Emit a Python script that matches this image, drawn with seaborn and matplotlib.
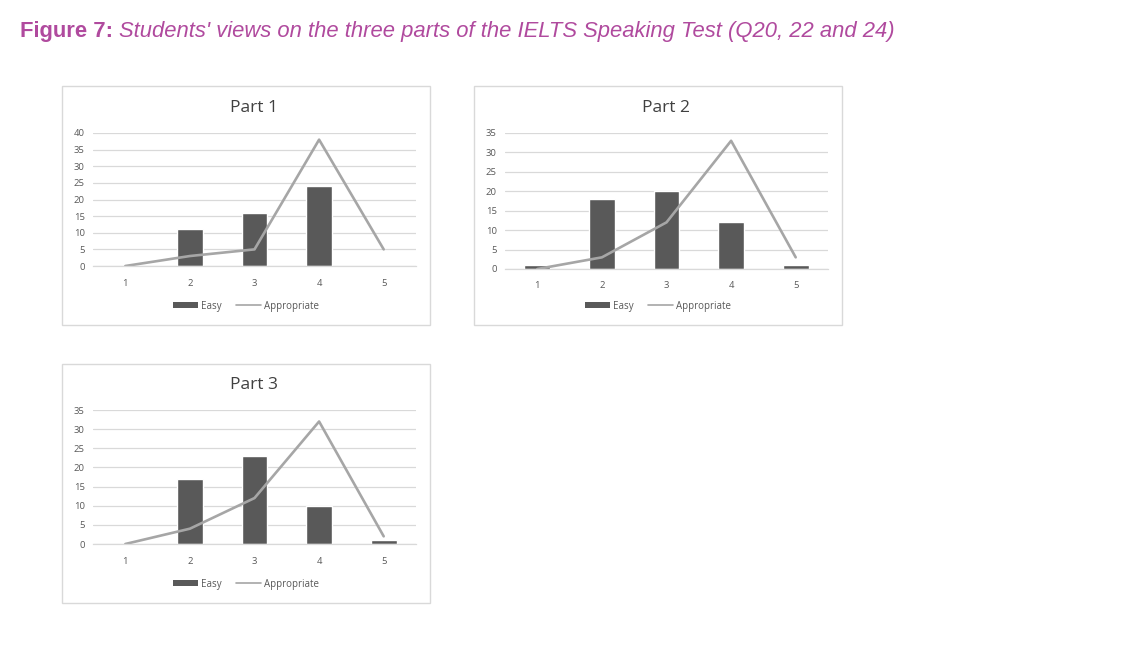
import matplotlib
matplotlib.use("Agg")
import matplotlib.pyplot as plt
import seaborn as sns
import pandas as pd
import numpy as np
from matplotlib.patches import Rectangle, Patch
from matplotlib.lines import Line2D

sns.set_theme(style="white")
plt.rcParams['font.family'] = ['Open Sans', 'DejaVu Sans']

categories = ["1", "2", "3", "4", "5"]
part1_easy = [0, 11, 16, 24, 0]
part1_appr = [0, 3, 5, 38, 5]
part2_easy = [1, 18, 20, 12, 1]
part2_appr = [0, 3, 12, 33, 3]
part3_easy = [0, 17, 23, 10, 1]
part3_appr = [0, 4, 12, 32, 2]
panel_titles = ["Part 1", "Part 2", "Part 3"]
y_max = [40, 35, 35]

W, H = 1130, 650
fig = plt.figure(figsize=(W / 100, H / 100), dpi=100)

def px_axes(left, top, right, bottom):
    return fig.add_axes([left / W, 1 - bottom / H, (right - left) / W, (bottom - top) / H])

def border(left, top, right, bottom):
    fig.patches.append(Rectangle((left / W, 1 - bottom / H), (right - left) / W, (bottom - top) / H,
                                 transform=fig.transFigure, fill=False, edgecolor="#D9D9D9", lw=1))

BAR = "#595959"
LINE = "#A6A6A6"
GRID = "#D9D9D9"
TXT = "#595959"

panels = [
    (part1_easy, part1_appr, (93, 133, 416, 266), (62, 86, 430, 325)),
    (part2_easy, part2_appr, (505, 133, 828, 269), (474, 86, 842, 325)),
    (part3_easy, part3_appr, (93, 410, 416, 544), (62, 364, 430, 603)),
]

for i, (easy, appr, ax_box, b_box) in enumerate(panels):
    border(*b_box)
    ax = px_axes(*ax_box)
    df = pd.DataFrame({"cat": categories, "Easy": easy, "Appropriate": appr})
    sns.barplot(data=df, x="cat", y="Easy", order=categories, color=BAR, width=0.4,
                saturation=1, ax=ax)
    sns.lineplot(x=np.arange(len(categories)), y=df["Appropriate"], color=LINE, lw=1.9,
                 ax=ax)
    ax.set_xlim(-0.5, 4.5)
    ax.set_ylim(0, y_max[i])
    ax.set_yticks(np.arange(0, y_max[i] + 1, 5))
    ax.yaxis.grid(True, color=GRID, lw=0.9)
    ax.set_axisbelow(True)
    for s in ["top", "right", "left"]:
        ax.spines[s].set_visible(False)
    ax.spines["bottom"].set_color(GRID)
    ax.spines["bottom"].set_linewidth(0.9)
    ax.tick_params(axis="both", labelsize=6.8, colors=TXT, length=0, pad=6)
    ax.tick_params(axis="x", pad=9)
    ax.set_xlabel("")
    ax.set_ylabel("")
    ax.set_title(panel_titles[i], fontsize=12.5, color="#404040", pad=15)
    handles = [Patch(facecolor=BAR, edgecolor="none", label="Easy"),
               Line2D([], [], color=LINE, lw=1.2, label="Appropriate")]
    bl, bt, br, bb_ = b_box
    ax.legend(handles=handles, loc="center",
              bbox_to_anchor=((bl + br) / 2 / W, 1 - (bb_ - 19) / H),
              bbox_transform=fig.transFigure, ncol=2,
              frameon=False, fontsize=7, handlelength=2.6, handleheight=0.45,
              columnspacing=1.4, handletextpad=0.3, labelcolor=TXT)

PINK = "#B04A9E"
t1 = fig.text(20 / W, 1 - 31 / H, "Figure 7:", fontsize=15.8, fontweight="bold", color=PINK,
              va="center", ha="left", family=["Liberation Sans", "DejaVu Sans"])
fig.canvas.draw()
bb = t1.get_window_extent()
fig.text((bb.x1 + 6) / W, 1 - 31 / H,
         "Students' views on the three parts of the IELTS Speaking Test (Q20, 22 and 24)",
         fontsize=15.8, style="italic", color=PINK, va="center", ha="left",
         family=["Liberation Sans", "DejaVu Sans"])

fig.savefig("out.png", dpi=100)
